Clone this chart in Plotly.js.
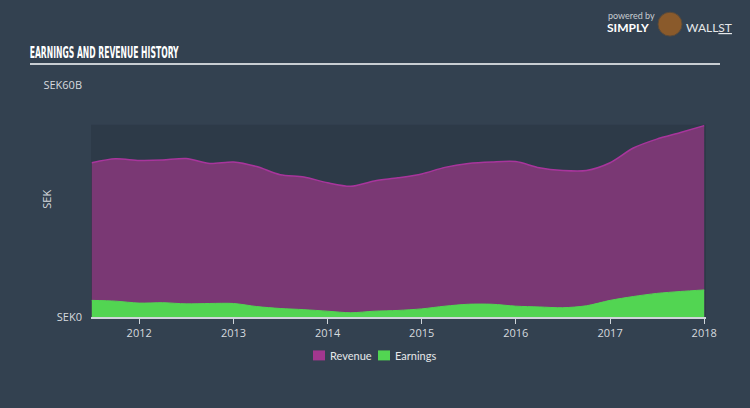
<!DOCTYPE html>
<html>
<head>
<meta charset="utf-8">
<script src="https://cdn.plot.ly/plotly-3.0.1.min.js"></script>
<style>
html,body{margin:0;padding:0;background:#334150;}
#chart{width:750px;height:408px;}
</style>
</head>
<body>
<div id="chart"></div>
<script>
var dates = ["2011-07-01","2011-10-01","2012-01-01","2012-04-01","2012-07-01","2012-10-01",
  "2013-01-01","2013-04-01","2013-07-01","2013-10-01","2014-01-01","2014-04-01","2014-07-01",
  "2014-10-01","2015-01-01","2015-04-01","2015-07-01","2015-10-01","2016-01-01","2016-04-01",
  "2016-07-01","2016-10-01","2017-01-01","2017-04-01","2017-07-01","2017-10-01","2018-01-01"];
var revenue = [39.9,40.9,40.5,40.6,41.0,39.7,40.1,38.9,36.8,36.2,34.7,33.8,35.2,36.0,37.0,38.7,
  39.7,40.1,40.2,38.6,37.9,37.9,39.9,43.7,46.0,47.7,49.5];
var earnings = [4.3,4.1,3.6,3.7,3.4,3.5,3.5,2.7,2.2,1.9,1.5,1.1,1.5,1.7,2.1,2.8,3.3,3.3,2.8,2.6,
  2.4,2.9,4.3,5.3,6.1,6.6,7.0];
var yTickVals = [0, 60];
var yTickText = ["SEK0", "SEK60B"];
var xTickVals = ["2012-01-01","2013-01-01","2014-01-01","2015-01-01","2016-01-01","2017-01-01","2018-01-01"];
var xTickText = ["2012","2013","2014","2015","2016","2017","2018"];
var seriesNames = ["Revenue", "Earnings"];
var swatchColors = ["#a3378f", "#52d552"];

var traces = [
  {x: dates, y: revenue, name: seriesNames[0], type: "scatter", mode: "lines",
   fill: "tozeroy", fillcolor: "#7a3874", showlegend: false,
   line: {color: "#a8359c", width: 1.5, shape: "spline", smoothing: 0.8}},
  {x: dates, y: earnings, name: seriesNames[1], type: "scatter", mode: "lines",
   fill: "tozeroy", fillcolor: "#52d552", showlegend: false,
   line: {color: "#52d552", width: 1, shape: "spline", smoothing: 0.8}}
];

function px(x){ return (x - 91) / 615; }
function py(y){ return (317.5 - y) / 232.5; }

var legendShapes = [
  {type: "rect", xref: "paper", yref: "paper", x0: px(313), x1: px(325), y0: py(361), y1: py(351),
   fillcolor: swatchColors[0], line: {width: 0}},
  {type: "rect", xref: "paper", yref: "paper", x0: px(378), x1: px(390), y0: py(361), y1: py(351),
   fillcolor: swatchColors[1], line: {width: 0}}
];
var legendAnns = [
  {text: seriesNames[0], xref: "paper", yref: "paper", x: px(328), y: py(356), xanchor: "left", yanchor: "middle",
   showarrow: false, font: {size: 11, color: "#e6e8ea", family: "Lato, Open Sans, sans-serif"}},
  {text: seriesNames[1], xref: "paper", yref: "paper", x: px(393), y: py(356), xanchor: "left", yanchor: "middle",
   showarrow: false, font: {size: 11, color: "#e6e8ea", family: "Lato, Open Sans, sans-serif"}}
];

var layout = {
  width: 750, height: 408,
  paper_bgcolor: "#334150", plot_bgcolor: "rgba(0,0,0,0)",
  margin: {l: 91, r: 44, t: 85, b: 90.5},
  font: {family: "Open Sans, DejaVu Sans, sans-serif", color: "#d6dadf", size: 11},
  showlegend: false,
  xaxis: {type: "date", range: ["2011-06-28", "2018-01-08"],
    tickvals: xTickVals, ticktext: xTickText, ticks: "outside", ticklen: 5, tickcolor: "#cfd5da",
    showgrid: false, zeroline: false, showline: true, linecolor: "#cfd5da", linewidth: 1.5,
    tickfont: {size: 11, color: "#d6dadf"}, fixedrange: true},
  yaxis: {range: [0, 60], tickvals: yTickVals, ticktext: yTickText, showgrid: false, zeroline: false,
    showline: false, ticks: "", ticklabelstandoff: 8,
    tickfont: {size: 11, color: "#d6dadf"}, fixedrange: true},
  shapes: [
    {type: "rect", xref: "paper", yref: "y", x0: 0, x1: 1.0, y0: 0, y1: 49.7,
     fillcolor: "#2d3a48", line: {width: 0}, layer: "below"},
    {type: "line", xref: "paper", yref: "paper", x0: px(30), x1: px(720), y0: py(64), y1: py(64),
     line: {color: "#c8cdd2", width: 2}},
    {type: "circle", xref: "paper", yref: "paper", x0: px(658), x1: px(682), y0: py(36), y1: py(12),
     fillcolor: "#8a5a2b", line: {color: "#5a4a3a", width: 1}}
  ].concat(legendShapes),
  annotations: [
    {text: "<b>EARNINGS AND REVENUE HISTORY</b>", xref: "paper", yref: "paper", x: px(104.5), y: py(53),
     xanchor: "center", yanchor: "middle", showarrow: false,
     font: {family: "DejaVu Sans Condensed, Liberation Sans Narrow, sans-serif", size: 15, color: "#ffffff"}},
    {text: "SEK", xref: "paper", yref: "paper", x: px(47), y: py(200), xanchor: "center", yanchor: "middle",
     textangle: -90, showarrow: false, font: {size: 11, color: "#d6dadf"}},
    {text: "powered by", xref: "paper", yref: "paper", x: px(606), y: py(15), xanchor: "left", yanchor: "middle",
     showarrow: false, font: {size: 9, color: "#c8cdd2", family: "Lato, sans-serif"}},
    {text: "<b>SIMPLY</b>", xref: "paper", yref: "paper", x: px(605), y: py(27), xanchor: "left", yanchor: "middle",
     showarrow: false, font: {size: 12, color: "#ffffff", family: "Lato, sans-serif"}},
    {text: "WALL<u>ST</u>", xref: "paper", yref: "paper", x: px(684), y: py(27), xanchor: "left", yanchor: "middle",
     showarrow: false, font: {size: 12, color: "#e6e8ea", family: "Lato, sans-serif"}}
  ].concat(legendAnns)
};

Plotly.newPlot("chart", traces, layout, {displayModeBar: false, staticPlot: true}).then(function(gd){
  // narrow the condensed headline to the reference's width (text stays centred on its anchor)
  var nodes = gd.querySelectorAll(".annotation-text");
  nodes.forEach(function(t){
    if (t.textContent.indexOf("EARNINGS") === 0) {
      t.setAttribute("textLength", "149");
      t.setAttribute("lengthAdjust", "spacingAndGlyphs");
    }
  });
});
</script>
</body>
</html>
